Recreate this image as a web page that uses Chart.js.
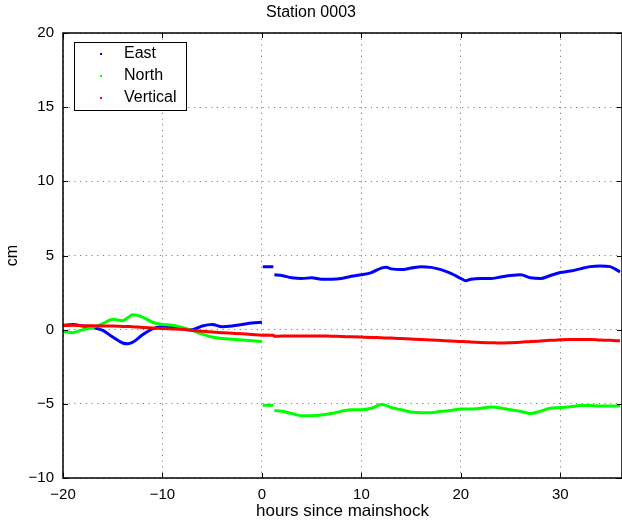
<!DOCTYPE html>
<html>
<head>
<meta charset="utf-8">
<title>Station 0003</title>
<script src="https://cdn.jsdelivr.net/npm/chart.js@4.4.1/dist/chart.umd.min.js"></script>
<style>
  html, body { margin: 0; padding: 0; background: #fff; }
  #wrap { width: 622px; height: 524px; }
</style>
</head>
<body>
<div id="wrap"><canvas id="chart"></canvas></div>
<script>
"use strict";

// hours since mainshock (a null value in a series breaks its line)
const hours = [
  -20, -19, -18, -17, -16, -15, -14, -13.5, -13, -12, -11, -10, -9, -8, -7, -6, -5, -4, -3, -2, -1, 0,
  0.03,
  0.08, 1.15,
  1.2,
  1.25, 2, 3, 4, 5, 6, 7, 8, 9, 10, 11, 12, 12.5, 13, 14, 15, 16, 17, 18, 19, 20, 20.5,
  21, 22, 23, 24, 25, 26, 27, 28, 29, 30, 31, 32, 33, 34, 35, 36,
];

const east = [
  0.3, 0.35, 0.25, 0.15, -0.05, -0.5, -0.9, -0.95, -0.85, -0.35, 0.05, 0.2, 0.15, 0.05, 0.0, 0.25, 0.35, 0.2, 0.25, 0.35, 0.45, 0.5,
  null,
  4.25, 4.25,
  null,
  3.7, 3.65, 3.5, 3.45, 3.5, 3.4, 3.4, 3.45, 3.6, 3.7, 3.85, 4.15, 4.2, 4.1, 4.05, 4.15, 4.25, 4.2, 4.05, 3.8, 3.45, 3.3,
  3.4, 3.45, 3.45, 3.55, 3.65, 3.7, 3.5, 3.45, 3.65, 3.85, 3.95, 4.1, 4.25, 4.3, 4.25, 3.9,
];

const north = [
  -0.1, -0.2, 0.0, 0.15, 0.4, 0.7, 0.6, 0.8, 1.0, 0.85, 0.5, 0.35, 0.3, 0.15, -0.05, -0.3, -0.5, -0.6, -0.65, -0.7, -0.75, -0.8,
  null,
  -5.1, -5.1,
  null,
  -5.45, -5.5, -5.65, -5.8, -5.8, -5.75, -5.65, -5.5, -5.4, -5.4, -5.3, -5.05, -5.1, -5.25, -5.4, -5.55, -5.6, -5.6, -5.5, -5.45, -5.35, -5.35,
  -5.35, -5.3, -5.22, -5.28, -5.4, -5.5, -5.65, -5.5, -5.3, -5.25, -5.2, -5.12, -5.12, -5.15, -5.15, -5.15,
];

const vertical = [
  0.28, 0.3, 0.27, 0.26, 0.25, 0.24, 0.22, 0.21, 0.2, 0.15, 0.12, 0.08, 0.05, 0.02, -0.05, -0.1, -0.15, -0.2, -0.24, -0.28, -0.33, -0.38,
  -0.37,
  -0.36, -0.38,
  -0.42,
  -0.45, -0.43, -0.42, -0.42, -0.42, -0.42, -0.44, -0.46, -0.48, -0.5, -0.52, -0.55, -0.56, -0.57, -0.6, -0.63, -0.66, -0.7, -0.73, -0.76, -0.8, -0.81,
  -0.83, -0.86, -0.88, -0.9, -0.88, -0.85, -0.8, -0.76, -0.72, -0.68, -0.67, -0.67, -0.67, -0.7, -0.72, -0.75,
];

const seriesNames = ["East", "North", "Vertical"];
const seriesColors = ["#0000ff", "#00ff00", "#ff0000"];
const xTicks = [-20, -10, 0, 10, 20, 30];
const yTicks = [-10, -5, 0, 5, 10, 15, 20];

const fontFamily = "'Liberation Sans', Arial, Helvetica, sans-serif";
const minus = (v) => String(v).replace("-", "\u2212");

// inward ticks, box and legend like the matlab figure
const matlabFrame = {
  id: "matlabFrame",
  afterDatasetsDraw(chart) {
    const { ctx, chartArea: a, scales } = chart;
    ctx.save();

    ctx.strokeStyle = "#000";
    ctx.lineWidth = 1;
    ctx.beginPath();
    xTicks.forEach((v) => {
      const px = Math.round(scales.x.getPixelForValue(v)) + 0.5;
      ctx.moveTo(px, a.bottom);
      ctx.lineTo(px, a.bottom - 5);
      ctx.moveTo(px, a.top);
      ctx.lineTo(px, a.top + 5);
    });
    yTicks.forEach((v) => {
      const py = Math.round(scales.y.getPixelForValue(v)) + 0.5;
      ctx.moveTo(a.left, py);
      ctx.lineTo(a.left + 5, py);
      ctx.moveTo(a.right, py);
      ctx.lineTo(a.right - 5, py);
    });
    ctx.stroke();

    // box
    ctx.lineWidth = 1.5;
    ctx.strokeRect(a.left, a.top, a.right - a.left, a.bottom - a.top);

    // legend
    const lx = a.left + 11;
    const ly = a.top + 9;
    ctx.fillStyle = "#fff";
    ctx.fillRect(lx, ly, 112, 68);
    ctx.lineWidth = 1;
    ctx.strokeRect(lx + 0.5, ly + 0.5, 112, 68);
    ctx.font = "16px " + fontFamily;
    ctx.textBaseline = "middle";
    ctx.textAlign = "left";
    const rows = [12, 34, 56];
    seriesNames.forEach((name, i) => {
      ctx.fillStyle = seriesColors[i];
      ctx.fillRect(lx + 26, ly + rows[i] - 1, 2, 2);
      ctx.fillStyle = "#000";
      ctx.fillText(name, lx + 50, ly + rows[i]);
    });

    ctx.restore();
  },
};

const series = [east, north, vertical];

const ctx = document.getElementById("chart").getContext("2d");
const chart = new Chart(ctx, {
  type: "line",
  data: {
    datasets: series.map((values, i) => ({
      label: seriesNames[i],
      data: hours.map((h, j) => ({ x: h, y: values[j] })),
      borderColor: seriesColors[i],
      backgroundColor: seriesColors[i],
      borderWidth: 3,
      pointRadius: 0,
      cubicInterpolationMode: "monotone",
      spanGaps: false,
      order: 2 - i,
    })),
  },
  options: {
    responsive: true,
    maintainAspectRatio: false,
    animation: false,
    layout: { padding: 0 },
    plugins: {
      legend: { display: false },
      tooltip: { enabled: false },
      title: {
        display: true,
        text: "Station 0003",
        color: "#000",
        font: { family: fontFamily, size: 16, weight: "normal" },
        padding: { top: 3, bottom: 10.8 },
      },
    },
    scales: {
      x: {
        type: "linear",
        min: -20,
        max: 36.2,
        afterBuildTicks: (scale) => {
          scale.ticks = xTicks.map((v) => ({ value: v }));
        },
        afterFit: (scale) => {
          scale.height = 46;
        },
        ticks: {
          color: "#000",
          padding: 8,
          maxRotation: 0,
          font: { family: fontFamily, size: 15 },
          callback: (v) => minus(v),
        },
        grid: {
          color: "rgba(0,0,0,0.5)",
          drawTicks: false,
          tickBorderDash: [1, 4],
        },
        border: { display: false, dash: [1.2, 4.5] },
        title: {
          display: true,
          text: "hours since mainshock",
          color: "#000",
          font: { family: fontFamily, size: 17 },
          padding: { top: 0, bottom: 2.8 },
        },
      },
      y: {
        min: -10,
        max: 20,
        afterBuildTicks: (scale) => {
          scale.ticks = yTicks.map((v) => ({ value: v }));
        },
        afterFit: (scale) => {
          scale.width = 63;
        },
        ticks: {
          color: "#000",
          padding: 9,
          font: { family: fontFamily, size: 15 },
          callback: (v) => minus(v),
        },
        grid: {
          color: "rgba(0,0,0,0.5)",
          drawTicks: false,
        },
        border: { display: false, dash: [1.2, 4.5] },
        title: {
          display: true,
          text: "cm",
          color: "#000",
          font: { family: fontFamily, size: 16 },
          padding: { top: 3.4, bottom: 0 },
        },
      },
    },
  },
  plugins: [matlabFrame],
});
</script>
</body>
</html>
